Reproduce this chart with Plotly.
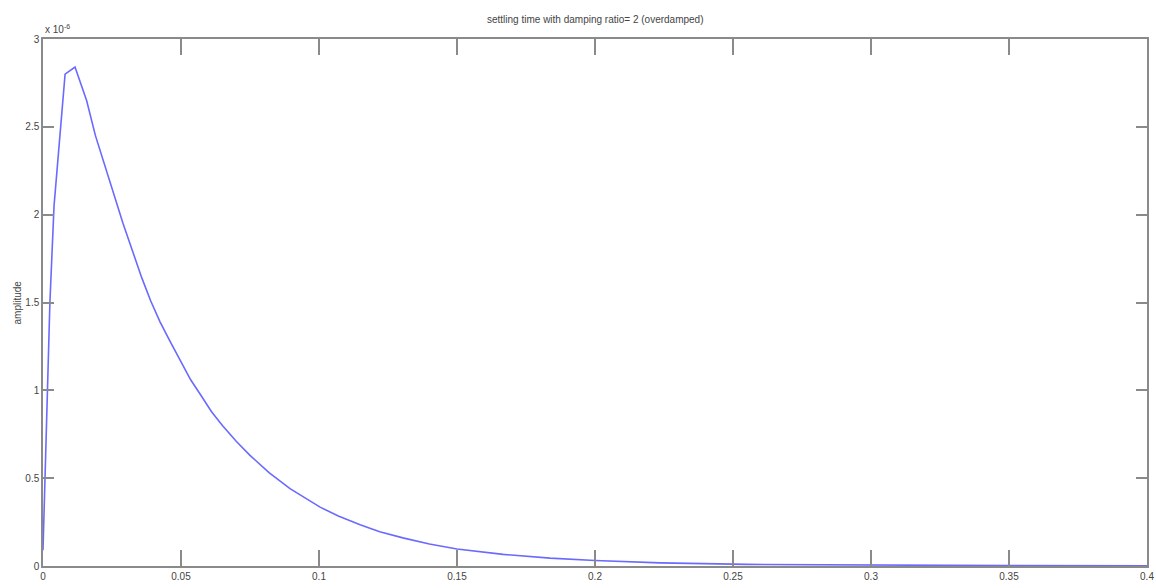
import plotly.graph_objects as go

# time (s)
t = [0.0, 0.0007, 0.0014, 0.0025, 0.004, 0.008, 0.0116, 0.0158, 0.019, 0.0225,
     0.026, 0.029, 0.0325, 0.0358, 0.039, 0.0424, 0.046, 0.0496, 0.0535,
     0.0575, 0.061, 0.065, 0.07, 0.075, 0.082, 0.0895, 0.095,
     0.1004, 0.107, 0.1149, 0.122, 0.1304, 0.14,
     0.15, 0.1667, 0.1837, 0.2, 0.2236, 0.255, 0.3, 0.35, 0.4]
# amplitude in units of 1e-6
amp_e6 = [0.09, 0.50, 1.00, 1.50, 2.05, 2.80, 2.84, 2.65, 2.45, 2.27,
          2.10, 1.95, 1.79, 1.64, 1.51, 1.39, 1.28, 1.17, 1.06,
          0.965, 0.88, 0.80, 0.71, 0.63, 0.53, 0.44, 0.385,
          0.335, 0.285, 0.235, 0.195, 0.16, 0.125,
          0.097, 0.066, 0.045, 0.031, 0.018, 0.009, 0.004, 0.002, 0.001]

x_ticks = [0, 0.05, 0.1, 0.15, 0.2, 0.25, 0.3, 0.35, 0.4]
y_ticks = [0, 0.5, 1, 1.5, 2, 2.5, 3]

FONT = "Liberation Sans Narrow, Liberation Sans, Arial Narrow, sans-serif"

fig = go.Figure()
fig.add_trace(go.Scatter(x=t, y=amp_e6, mode="lines",
                         line=dict(color="#6a6aff", width=1.6),
                         showlegend=False, hoverinfo="skip"))

axis_common = dict(showgrid=False, zeroline=False, showline=True,
                   linecolor="#8a8a8a", linewidth=1.5, mirror="ticks",
                   ticks="inside", tickcolor="#8a8a8a", tickwidth=1.5,
                   automargin=False,
                   tickfont=dict(family=FONT, size=10, color="#444444"))

fig.update_layout(
    width=1156, height=588,
    margin=dict(l=43, r=9, t=39, b=22),
    paper_bgcolor="white", plot_bgcolor="white",
    xaxis=dict(range=[0, 0.4], tickvals=x_ticks,
               ticktext=[("%g" % v) for v in x_ticks],
               ticklen=16, **axis_common),
    yaxis=dict(range=[0, 3], tickvals=y_ticks,
               ticktext=[("%g" % v) for v in y_ticks],
               ticklen=11, **axis_common),
    annotations=[
        dict(text="settling time with damping ratio= 2 (overdamped)",
             xref="paper", yref="paper", x=0.5, y=1, yshift=12,
             showarrow=False, xanchor="center", yanchor="bottom",
             font=dict(family=FONT, size=10, color="#444444")),
        dict(text="amplitude", xref="paper", yref="paper", x=0, xshift=-26,
             y=0.5, textangle=-90, showarrow=False,
             xanchor="center", yanchor="middle",
             font=dict(family=FONT, size=10, color="#444444")),
        dict(text="x 10<sup>-6</sup>", xref="paper", yref="paper", x=0,
             y=1, yshift=2, xshift=0, showarrow=False,
             xanchor="left", yanchor="bottom",
             font=dict(family=FONT, size=10, color="#444444")),
    ],
)

fig.write_html("out.html")
